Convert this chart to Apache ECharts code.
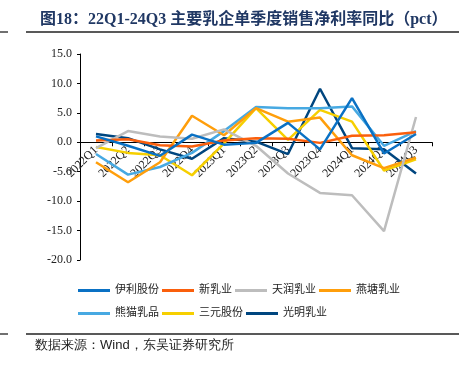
<!DOCTYPE html>
<html>
<head>
<meta charset="utf-8">
<script src="https://cdn.jsdelivr.net/npm/echarts@6/dist/echarts.min.js"></script>
<style>
html,body{margin:0;padding:0;background:#fff;}
#chart{width:459px;height:375px;}
</style>
</head>
<body>
<div id="chart"></div>
<script>
var categories = ['2022Q1','2022Q2','2022Q3','2022Q4','2023Q1','2023Q2','2023Q3','2023Q4','2024Q1','2024Q2','2024Q3'];
var yili     = [1.0, -0.6, -2.3, 1.3, -0.4, -0.1, 3.3, -1.2, 7.5, -1.9, 1.4];
var xinruye  = [0.3, 0.5, -0.5, -0.7, 0.3, 0.7, 0.6, -0.1, 1.1, 1.2, 1.7];
var tianrun  = [-1.0, 1.9, 1.0, 0.6, 2.2, -0.6, -5.3, -8.6, -9.0, -15.1, 4.3];
var yantang  = [-3.4, -6.8, -3.4, 4.5, 1.2, 5.8, 3.5, 4.2, -2.2, -4.4, -2.6];
var xiongmao = [-2.0, -5.5, -4.2, -1.8, 1.9, 6.0, 5.8, 5.8, 6.1, -0.6, 1.9];
var sanyuan  = [-0.8, -1.8, -2.2, -5.6, -0.2, 5.8, 0.4, 5.5, 3.5, -4.8, -2.9];
var guangming= [1.4, 0.7, -1.2, -2.8, 0.7, 0.1, -2.0, 9.1, -1.0, -1.2, -5.3];

var seriesNames = ['伊利股份','新乳业','天润乳业','燕塘乳业','熊猫乳品','三元股份','光明乳业'];
var seriesData = [yili, xinruye, tianrun, yantang, xiongmao, sanyuan, guangming];
var colors = ['#0A71C4','#FA5F0C','#BDBDBD','#FF9E0B','#47A9E2','#F6CF00','#00467F'];

var serif = '"Liberation Serif","Noto Sans CJK SC",serif';

var chart = echarts.init(document.getElementById('chart'), null, {renderer:'canvas'});
var series = seriesNames.map(function(n,i){
  return {
    name:n, type:'line', data:seriesData[i], showSymbol:false, symbol:'none',
    lineStyle:{width:2.5,color:colors[i]}, itemStyle:{color:colors[i]}, z: 10 - i
  };
});
var legendCommon = {
  orient:'horizontal', itemWidth:32, itemHeight:3, icon:'rect', itemGap:3, padding:0,
  textStyle:{fontSize:11, color:'#222', fontFamily:serif}
};
var yMin = -20, yMax = 15;
chart.setOption({
  animation:false,
  backgroundColor:'#fff',
  title:{
    text:'图18：22Q1-24Q3 主要乳企单季度销售净利率同比（pct）',
    left:35, top:7,
    textStyle:{fontSize:16, fontWeight:'bold', color:'#203864', fontFamily:serif}
  },
  legend:[
    Object.assign({}, legendCommon, {left:78, top:285, data:seriesNames.slice(0,4)}),
    Object.assign({}, legendCommon, {left:78, top:308, data:seriesNames.slice(4)})
  ],
  grid:{left:80, right:27, top:54, bottom:115, containLabel:false},
  xAxis:{
    type:'category', data:categories, boundaryGap:true, position:'bottom',
    axisLine:{onZero:false, lineStyle:{color:'#000', width:1}},
    axisTick:{show:true, inside:false, length:4, lineStyle:{color:'#000'}},
    axisLabel:{rotate:45, margin:6, fontSize:12, color:'#222', fontFamily:serif, interval:0}
  },
  yAxis:{
    type:'value', min:yMin, max:yMax, interval:5,
    splitLine:{show:false},
    axisLine:{show:true, lineStyle:{color:'#000', width:1}},
    axisTick:{show:true, length:3, lineStyle:{color:'#000'}},
    axisLabel:{margin:8, fontSize:12, color:'#222', fontFamily:serif,
      formatter:function(v){return v.toFixed(1);}}
  },
  graphic:[
    {type:'line', shape:{x1:0,y1:32,x2:8,y2:32}, style:{stroke:'#222', lineWidth:1.3}},
    {type:'line', shape:{x1:26,y1:32,x2:459,y2:32}, style:{stroke:'#222', lineWidth:1.3}},
    {type:'line', shape:{x1:0,y1:334,x2:8,y2:334}, style:{stroke:'#222', lineWidth:1.3}},
    {type:'line', shape:{x1:26,y1:334,x2:459,y2:334}, style:{stroke:'#222', lineWidth:1.3}},
    {type:'text', left:35, top:339, style:{text:'数据来源：Wind，东吴证券研究所', fontSize:13, fill:'#222', font:'13px ' + serif}}
  ],
  series:series
});
// place the category axis on the value axis' zero line
var yZero = chart.convertToPixel({yAxisIndex:0}, 0);
var yBottom = chart.convertToPixel({yAxisIndex:0}, yMin);
chart.setOption({xAxis:{offset: yZero - yBottom}});
</script>
</body>
</html>
